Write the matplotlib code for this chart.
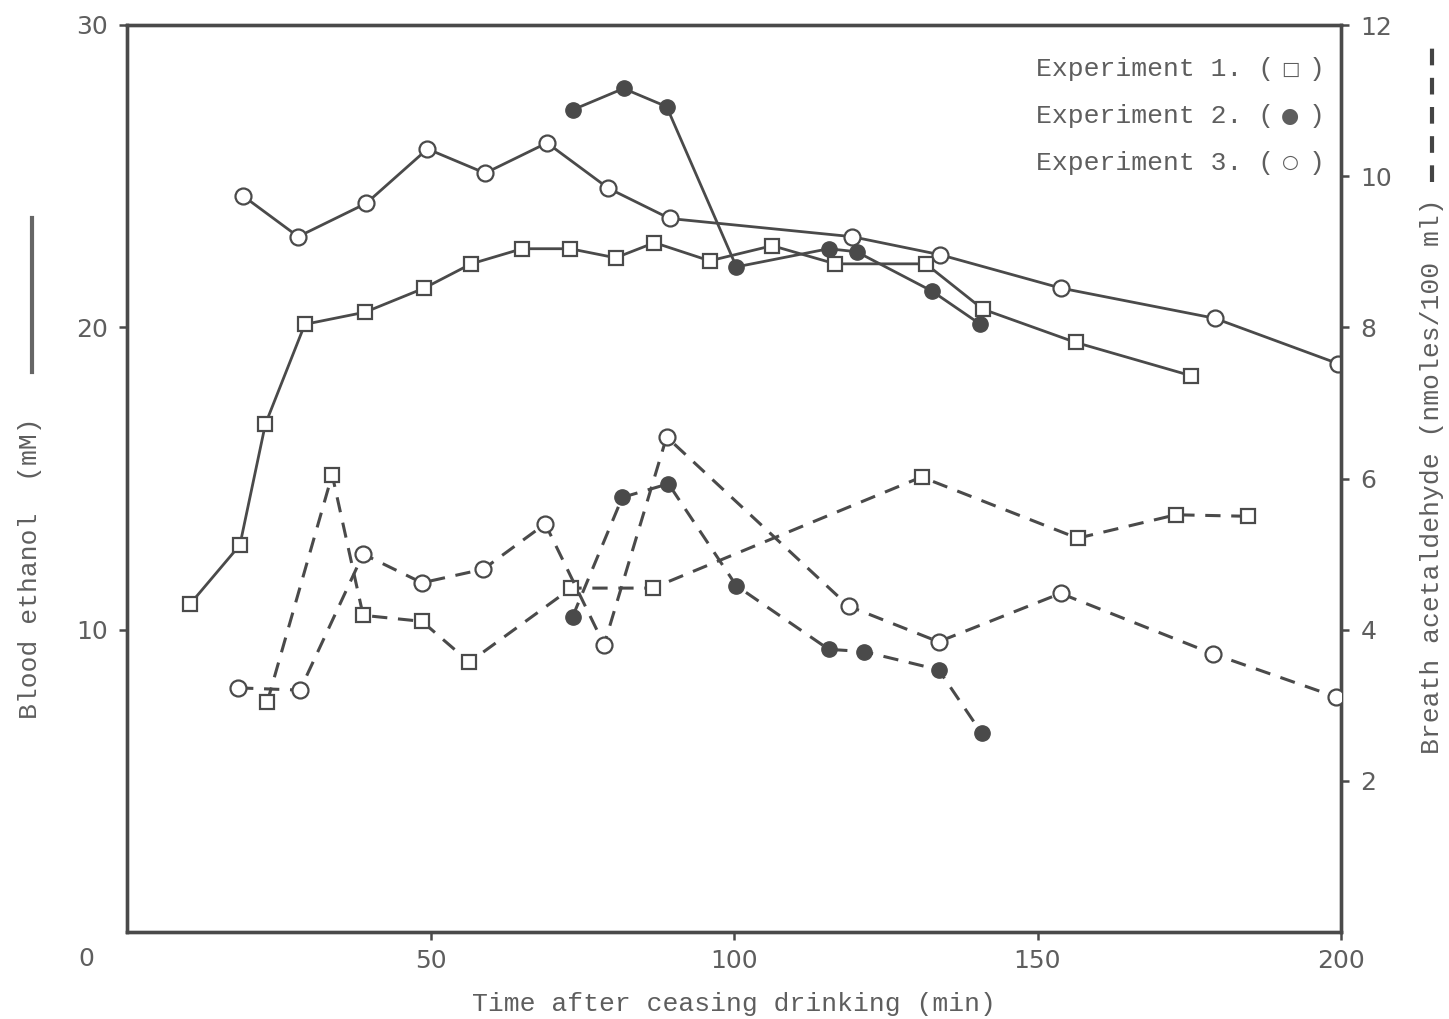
import matplotlib
matplotlib.use("Agg")
import matplotlib.pyplot as plt
from matplotlib.lines import Line2D

# ---- data ----
# Blood ethanol (mM), solid lines, left axis
exp1_blood_t = [10.4, 18.6, 22.8, 29.3, 39.2, 49.0, 56.7, 65.1, 73.0, 80.5, 86.9, 96.0, 106.3, 116.7, 131.6, 141.0, 156.3, 175.3]
exp1_blood_v = [10.85, 12.8, 16.8, 20.1, 20.5, 21.3, 22.1, 22.6, 22.6, 22.3, 22.8, 22.2, 22.7, 22.1, 22.1, 20.6, 19.5, 18.4]

exp2_blood_t = [73.5, 81.8, 88.9, 100.4, 115.6, 120.2, 132.6, 140.6]
exp2_blood_v = [27.2, 27.9, 27.3, 22.0, 22.6, 22.5, 21.2, 20.1]

exp3_blood_t = [19.1, 28.2, 39.4, 49.5, 59.0, 69.2, 79.3, 89.4, 119.4, 134.0, 153.8, 179.2, 199.5]
exp3_blood_v = [24.35, 23.0, 24.1, 25.9, 25.1, 26.1, 24.6, 23.6, 23.0, 22.4, 21.3, 20.3, 18.8]

# Breath acetaldehyde (nmoles/100 ml), dashed lines, right axis
exp1_breath_t = [23.1, 33.8, 38.9, 48.6, 56.4, 73.2, 86.6, 130.9, 156.6, 172.8, 184.7]
exp1_breath_v = [3.04, 6.05, 4.19, 4.11, 3.57, 4.55, 4.55, 6.02, 5.21, 5.52, 5.50]

exp2_breath_t = [73.4, 81.6, 89.2, 100.4, 115.6, 121.4, 133.7, 140.8]
exp2_breath_v = [4.17, 5.75, 5.93, 4.58, 3.74, 3.71, 3.47, 2.63]

exp3_breath_t = [18.3, 28.5, 38.9, 48.6, 58.7, 68.9, 78.6, 88.9, 118.9, 133.7, 153.8, 178.9, 199.2]
exp3_breath_v = [3.23, 3.20, 5.00, 4.62, 4.80, 5.40, 3.80, 6.55, 4.31, 3.84, 4.48, 3.68, 3.11]

x_ticks = [50, 100, 150, 200]
left_ticks = [10, 20, 30]
right_ticks = [2, 4, 6, 8, 10, 12]
legend_names = ["Experiment 1. (", "Experiment 2. (", "Experiment 3. ("]
legend_glyphs = ["\u25a1", "\u25cf", "\u25cb"]

# ---- style ----
LC = "#4a4a4a"
TC = "#5e5e5e"
MONO = ["Liberation Mono", "DejaVu Sans Mono"]

fig = plt.figure(figsize=(14.49, 10.19), dpi=100)
ax = fig.add_axes([127/1449, 1 - 932/1019, (1341-127)/1449, (932-25)/1019])
ax2 = ax.twinx()

ax.set_xlim(0, 200)
ax.set_ylim(0, 30)
ax2.set_ylim(0, 12)

lw = 2.0
common = dict(color=LC, lw=lw)

# blood (solid)
ax.plot(exp1_blood_t, exp1_blood_v, ls="-", marker="s", ms=9.5, mfc="white", mec=LC, mew=1.6, **common, zorder=3)
ax.plot(exp3_blood_t, exp3_blood_v, ls="-", marker="o", ms=11.5, mfc="white", mec=LC, mew=1.6, **common, zorder=3)
ax.plot(exp2_blood_t, exp2_blood_v, ls="-", marker="o", ms=11, mfc=LC, mec=LC, mew=1.0, **common, zorder=4)

# breath (dashed)
dash = (0, (5, 3.5))
ax2.plot(exp1_breath_t, exp1_breath_v, ls=dash, marker="s", ms=9.5, mfc="white", mec=LC, mew=1.6,
         color=LC, lw=2.2, zorder=3)
ax2.plot(exp3_breath_t, exp3_breath_v, ls=dash, marker="o", ms=11.5, mfc="white", mec=LC, mew=1.6,
         color=LC, lw=2.2, zorder=3)
ax2.plot(exp2_breath_t, exp2_breath_v, ls=dash, marker="o", ms=11, mfc=LC, mec=LC, mew=1.0,
         color=LC, lw=2.2, zorder=4)

# ticks
ax.set_xticks(x_ticks)
ax.set_xticklabels([str(v) for v in x_ticks])
ax.set_yticks(left_ticks)
ax.set_yticklabels([str(v) for v in left_ticks])
ax2.set_yticks(right_ticks)
ax2.set_yticklabels([str(v) for v in right_ticks])

for a in (ax, ax2):
    a.tick_params(direction="out", length=6, width=1.8, color=LC, labelcolor=TC, labelsize=18, pad=8)
    for s in a.spines.values():
        s.set_color(LC)
        s.set_linewidth(2.4)
ax.tick_params(axis="x", pad=6)

# origin label
ax.text(-0.027, -0.016, "0", transform=ax.transAxes, ha="right", va="top", fontsize=18, color=TC)

# axis labels
ax.set_xlabel("Time after ceasing drinking (min)", family=MONO, fontsize=19, color=TC, labelpad=14)
fig.text(30/1449, 1 - 568/1019, "Blood ethanol  (mM)", rotation=90, ha="center", va="center",
         family=MONO, fontsize=19, color=TC)
fig.text(1432/1449, 1 - 476/1019, "Breath acetaldehyde (nmoles/100 ml)", rotation=90, ha="center", va="center",
         family=MONO, fontsize=19, color=TC)

# line-style keys beside the axis labels
fig.add_artist(Line2D([32/1449, 32/1449], [1 - 372/1019, 1 - 218/1019], transform=fig.transFigure,
                      color="#666666", lw=3))
fig.add_artist(Line2D([1432/1449, 1432/1449], [1 - 182/1019, 1 - 38/1019], transform=fig.transFigure,
                      color="#444444", lw=3, ls=(0, (4, 3))))

# legend text
for i, (name, g) in enumerate(zip(legend_names, legend_glyphs)):
    y = 0.951 - i * 0.0515
    ax.text(0.9865, y, ")", transform=ax.transAxes, ha="right", va="center",
            family=MONO, fontsize=19, color=TC)
    ax.text(0.958, y, g, transform=ax.transAxes, ha="center", va="center",
            family="DejaVu Sans", fontsize=15 if i == 1 else 14, color=TC)
    ax.text(0.945, y, name, transform=ax.transAxes, ha="right", va="center",
            family=MONO, fontsize=19, color=TC)

fig.savefig("out.png", dpi=100)
